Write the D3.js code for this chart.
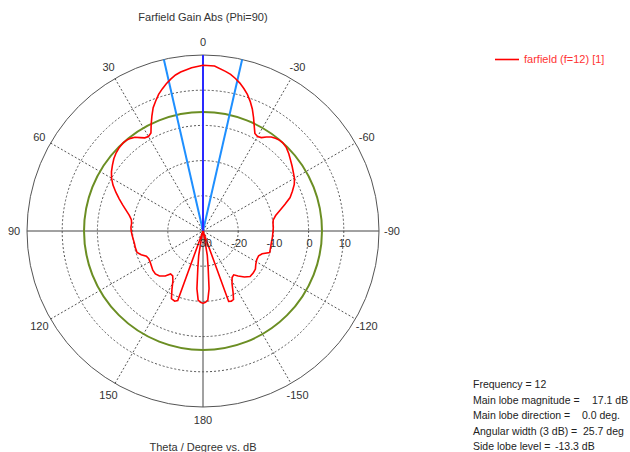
<!DOCTYPE html>
<html>
<head>
  <meta charset="utf-8">
  <style>
  body { margin: 0; background-color: #ffffff; }
  text { font-family: "Liberation Sans", Arial, sans-serif; font-size: 11px; fill: #333333; }
  .info { font-size: 10.5px; fill: #222222; }
  </style>
  <script src="https://d3js.org/d3.v7.min.js"></script>
</head>
<body>

<svg id="svg1"></svg>

<script>

// theta in degrees (0 = top, positive to the left) and gain in dB
var theta = [-180, -178, -176, -174, -172, -170, -168, -166, -162, -160, -158, -156, -154, -151, -148, -145, -142, -138, -134, -130, -126, -122, -118, -114, -111, -108, -105, -100, -95, -90, -87, -84, -81, -78, -75, -72, -69, -66, -63, -60, -57, -54, -51, -48, -45, -42, -40, -38, -36, -34, -32, -30, -28, -26, -24, -22, -20, -18, -16, -14, -12, -10, -8, -4,
  0,
  4, 8, 10, 12, 14, 16, 18, 20, 22, 24, 26, 28, 30, 32, 34, 36, 38, 40, 42, 45, 48, 51, 54, 57, 60, 63, 66, 69, 72, 75, 78, 81, 84, 87, 90, 93, 96, 100, 104, 108, 111, 114, 117, 120, 124, 128, 132, 136, 140, 143, 146, 149, 152, 155, 158, 160, 162, 166, 168, 170, 172, 174, 176, 178, 180];

var gain = [-9.5, -9.7, -10.3, -13.5, -19.5, -23, -28, -35, -35, -8.7, -8.5, -8.7, -10.5, -13.0, -14.4, -14.8, -13.8, -12.4, -11.4, -11.4, -11.6, -12.3, -12.7, -12.7, -12.0, -10.1, -10.2, -10.3, -10.2, -10.1, -10.0, -10.0, -9.8, -8.9, -7.4, -5.5, -3.5, -2.2, -0.9, 0.0, 0.6, 1.3, 2.0, 2.8, 3.5, 3.8, 3.7, 3.4, 3.0, 2.2, 1.3, 1.0, 1.4, 3.2, 5.3, 7.4, 9.2, 10.8, 12.1, 13.3, 14.3, 15.2, 15.8, 17.0,
  17.1,
  16.5, 15.6, 15.0, 14.1, 13.1, 12.0, 10.8, 9.3, 7.8, 5.7, 3.6, 1.5, 1.0, 1.2, 2.0, 2.9, 3.4, 3.7, 3.8, 3.6, 3.2, 2.6, 1.8, 1.0, 0.0, -1.3, -2.9, -4.5, -6.0, -7.4, -8.6, -9.4, -9.6, -9.5, -9.6, -9.8, -10.0, -10.2, -10.2, -10.3, -11.2, -12.4, -12.7, -12.6, -12.3, -11.9, -11.8, -12.2, -13.3, -14.7, -14.6, -13.4, -11.2, -8.8, -8.5, -9.0, -35, -35, -28, -23, -19.5, -13.5, -10.3, -9.7, -9.5];

var ringValues = [-30, -20, -10, 0, 10];
var angleTicks = [0, 30, 60, 90, 120, 150, 180, -150, -120, -90, -60, -30];

var mainLobeMagnitude = 17.1;
var mainLobeDirection = 0.0;
var angularWidth = 25.7;
var sideLobeLevel = -13.3;

var infoLabels = ["Frequency = 12", "Main lobe magnitude =", "Main lobe direction =", "Angular width (3 dB) =", "Side lobe level ="];
var infoValues = ["", "17.1 dB", "0.0 deg.", "25.7 deg", "-13.3 dB"];

var width = 630, height = 452;
var cx = 203, cy = 231, outerR = 176;

var svg = d3.select("#svg1")
    .attr("width", width)
    .attr("height", height);

var r = d3.scaleLinear().domain([-30, 20]).range([0, outerR]).clamp(true);
var toRad = function(t) { return -t * Math.PI / 180; };

var g = svg.append("g")
    .attr("transform", "translate(" + cx + "," + cy + ")");

// dotted rings
g.selectAll("circle.ring")
    .data(ringValues.slice(1))
  .enter().append("circle")
    .attr("class", "ring")
    .attr("r", function(d) { return r(d); })
    .attr("fill", "none")
    .attr("stroke", "#555")
    .attr("stroke-width", 1)
    .attr("stroke-dasharray", "2,2");

// dotted spokes
[30, 60, 120, 150].forEach(function(t) {
  var a = toRad(t);
  g.append("line")
      .attr("x1", outerR * Math.sin(a)).attr("y1", -outerR * Math.cos(a))
      .attr("x2", -outerR * Math.sin(a)).attr("y2", outerR * Math.cos(a))
      .attr("stroke", "#555")
      .attr("stroke-dasharray", "2,2");
});

// solid axes
g.append("line")
    .attr("x1", -outerR).attr("y1", 0).attr("x2", outerR).attr("y2", 0)
    .attr("stroke", "#444");
g.append("line")
    .attr("x1", 0).attr("y1", -outerR).attr("x2", 0).attr("y2", outerR)
    .attr("stroke", "#444");

g.append("circle")
    .attr("r", outerR)
    .attr("fill", "none")
    .attr("stroke", "#555");

// side lobe level circle
g.append("circle")
    .attr("r", r(mainLobeMagnitude + sideLobeLevel))
    .attr("fill", "none")
    .attr("stroke", "#6b8e23")
    .attr("stroke-width", 2);

// 3 dB width lines
[mainLobeDirection - angularWidth / 2, mainLobeDirection + angularWidth / 2].forEach(function(t) {
  var a = toRad(t);
  g.append("line")
      .attr("x1", 0).attr("y1", 0)
      .attr("x2", outerR * Math.sin(a)).attr("y2", -outerR * Math.cos(a))
      .attr("stroke", "#1e8fff")
      .attr("stroke-width", 2);
});

// main lobe direction
g.append("line")
    .attr("x1", 0).attr("y1", 0)
    .attr("x2", outerR * Math.sin(toRad(mainLobeDirection)))
    .attr("y2", -outerR * Math.cos(toRad(mainLobeDirection)))
    .attr("stroke", "#2a2aff")
    .attr("stroke-width", 2);

// farfield curve
var data = theta.map(function(t, i) { return {t: t, v: gain[i]}; });
var curve = d3.lineRadial()
    .angle(function(d) { return toRad(d.t); })
    .radius(function(d) { return r(d.v); });

g.append("path")
    .datum(data)
    .attr("d", curve)
    .attr("fill", "none")
    .attr("stroke", "#ff0000")
    .attr("stroke-width", 1.6);

// ring labels
g.selectAll("text.ringlabel")
    .data(ringValues)
  .enter().append("text")
    .attr("class", "ringlabel")
    .attr("x", function(d) { return r(d) + 1; })
    .attr("y", 16)
    .attr("text-anchor", "middle")
    .text(function(d) { return d; });

// angle labels
g.selectAll("text.anglelabel")
    .data(angleTicks)
  .enter().append("text")
    .attr("class", "anglelabel")
    .attr("x", function(d) { return 189 * Math.sin(toRad(d)); })
    .attr("y", function(d) { return -189 * Math.cos(toRad(d)) + 4; })
    .attr("text-anchor", "middle")
    .text(function(d) { return d; });

// titles
svg.append("text")
    .attr("x", cx).attr("y", 21)
    .attr("text-anchor", "middle")
    .text("Farfield Gain Abs (Phi=90)");

svg.append("text")
    .attr("x", cx).attr("y", 451)
    .attr("text-anchor", "middle")
    .text("Theta / Degree vs. dB");

// legend
svg.append("line")
    .attr("x1", 495).attr("y1", 59.5).attr("x2", 519).attr("y2", 59.5)
    .attr("stroke", "#ff0000")
    .attr("stroke-width", 1.6);
svg.append("text")
    .attr("x", 524).attr("y", 63)
    .style("fill", "#ff3333")
    .text("farfield (f=12) [1]");

// info block
var valueX = [0, 592, 582, 583, 555];
infoLabels.forEach(function(s, i) {
  var y = 388 + i * 15.5;
  svg.append("text").attr("class", "info").attr("x", 473).attr("y", y).text(s);
  if (infoValues[i])
    svg.append("text").attr("class", "info").attr("x", valueX[i]).attr("y", y).text(infoValues[i]);
});

</script>
</body>
</html>
